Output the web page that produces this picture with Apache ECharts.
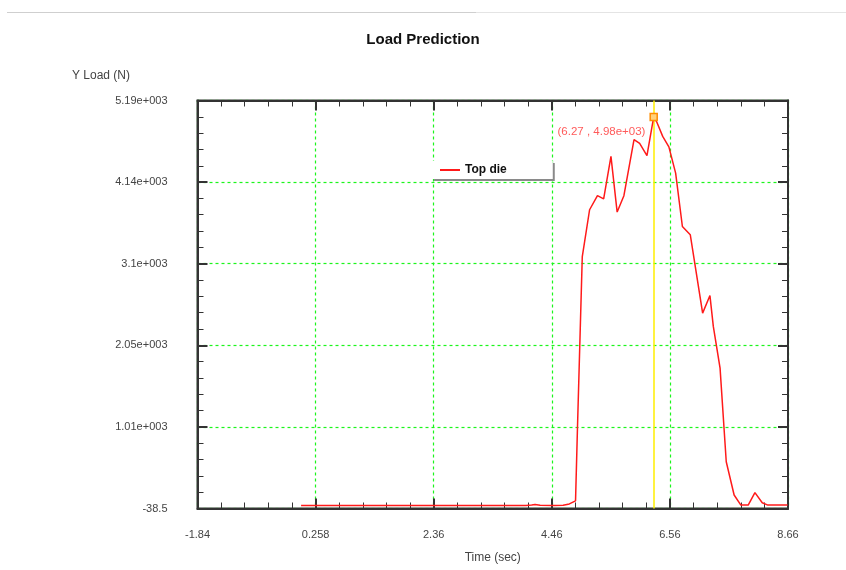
<!DOCTYPE html>
<html>
<head>
<meta charset="utf-8">
<script src="https://cdn.jsdelivr.net/npm/echarts@6/dist/echarts.min.js"></script>
<style>html,body{margin:0;padding:0;background:#fff;}#c{width:846px;height:570px;}</style>
</head>
<body>
<div id="c"></div>
<script>
// Data (time in sec, Y load in N)
var times = [0.0, 1.0, 2.0, 3.0, 4.0, 4.1, 4.16, 4.25, 4.5, 4.66, 4.77, 4.88, 4.915, 5.0, 5.13, 5.27, 5.38, 5.51, 5.62, 5.74, 5.92, 6.02, 6.15, 6.27, 6.33, 6.43, 6.54, 6.66, 6.78, 6.92, 7.14, 7.27, 7.33, 7.45, 7.56, 7.70, 7.82, 7.95, 8.07, 8.20, 8.30, 8.65];
var loads = [0, 0, 0, 0, 0, 5, 14, 3, 0, 2, 20, 60, 1010, 3190, 3790, 3970, 3930, 4475, 3760, 3970, 4690, 4640, 4485, 4980, 4905, 4730, 4595, 4260, 3575, 3470, 2465, 2690, 2295, 1760, 560, 135, 5, 5, 165, 35, 5, 5];
var seriesName = 'Top die';
var peakPoint = [6.27, 4980];
var xTicks = {min: -1.842, max: 8.658, interval: 2.1};
var yTicks = {min: -38.5, max: 5190, interval: 1045.7};
var chartTitle = 'Load Prediction';
var xName = 'Time (sec)';
var yName = 'Y Load (N)';

function fmtX(v) { return String(parseFloat(Number(v).toPrecision(3))); }
function fmtY(v) {
  if (Math.abs(v) < 1000) return String(parseFloat(Number(v).toPrecision(3)));
  var s = Number(v).toExponential(2).split('e');
  var m = String(parseFloat(s[0]));
  var e = parseInt(s[1], 10);
  var sign = e < 0 ? '-' : '+';
  var ea = String(Math.abs(e));
  while (ea.length < 3) ea = '0' + ea;
  return m + 'e' + sign + ea;
}

var data = times.map(function (t, i) { return [t, loads[i]]; });
var font = 'Liberation Sans, Arial, sans-serif';
var frameColor = '#333';
var gridGreen = '#1cf51c';

function axisCommon(extra) {
  var o = {
    type: 'value',
    splitNumber: 5,
    axisLine: {show: true, onZero: false, lineStyle: {color: frameColor, width: 2}},
    axisTick: {show: true, inside: true, length: 10, lineStyle: {color: frameColor, width: 2}},
    minorTick: {show: true, splitNumber: 5, length: 6, lineStyle: {color: frameColor, width: 1}},
    splitLine: {show: false},
    minorSplitLine: {show: false}
  };
  for (var k in extra) o[k] = extra[k];
  return o;
}

var chart = echarts.init(document.getElementById('c'), null, {renderer: 'canvas'});
chart.setOption({
  backgroundColor: '#fff',
  animation: false,
  title: [
    {text: chartTitle, left: 'center', top: 27,
     textStyle: {fontFamily: font, fontWeight: 'bold', fontSize: 15, color: '#111'}},
    {text: yName, left: 67, top: 65,
     textStyle: {fontFamily: font, fontWeight: 'normal', fontSize: 12, color: '#444'}}
  ],
  graphic: [
    {type: 'line', shape: {x1: 7, y1: 12.5, x2: 476, y2: 12.5}, style: {stroke: '#cfcfcf', lineWidth: 1}, silent: true},
    {type: 'line', shape: {x1: 476, y1: 12.5, x2: 846, y2: 12.5}, style: {stroke: '#e4e4e4', lineWidth: 1}, silent: true}
  ],
  legend: {
    data: [{name: seriesName, icon: 'path://M0,0L20,0L20,2L0,2Z'}],
    left: 432, top: 161,
    padding: [3, 46, 3, 8],
    itemWidth: 20, itemHeight: 12, itemGap: 6,
    backgroundColor: '#fff',
    shadowColor: '#8a8a8a', shadowBlur: 0, shadowOffsetX: 2, shadowOffsetY: 2,
    textStyle: {fontFamily: font, fontWeight: 'bold', fontSize: 12, color: '#111'}
  },
  grid: {left: 197.5, right: 58, top: 100.5, bottom: 61.5, show: true, borderColor: frameColor, borderWidth: 2, containLabel: false},
  xAxis: [
    axisCommon({
      position: 'bottom', min: xTicks.min, max: xTicks.max, interval: xTicks.interval,
      name: xName, nameLocation: 'middle', nameGap: 43,
      nameTextStyle: {fontFamily: font, fontSize: 12, color: '#444'},
      axisLabel: {show: true, margin: 21, fontFamily: font, fontSize: 11, color: '#444', formatter: fmtX,
                  showMinLabel: true, showMaxLabel: true},
      splitLine: {show: true, lineStyle: {color: gridGreen, type: [3, 3], width: 1.2}}
    }),
    axisCommon({
      position: 'top', min: xTicks.min, max: xTicks.max, interval: xTicks.interval,
      axisLabel: {show: false}
    })
  ],
  yAxis: [
    axisCommon({
      position: 'left', min: yTicks.min, max: yTicks.max, interval: yTicks.interval,
      axisLabel: {show: true, margin: 30, fontFamily: font, fontSize: 11, color: '#444', formatter: fmtY,
                  showMinLabel: true, showMaxLabel: true},
      splitLine: {show: true, lineStyle: {color: gridGreen, type: [3, 3], width: 1.2}}
    }),
    axisCommon({
      position: 'right', min: yTicks.min, max: yTicks.max, interval: yTicks.interval,
      axisLabel: {show: false}
    })
  ],
  series: [{
    name: seriesName,
    type: 'line',
    data: data,
    symbol: 'none',
    showSymbol: false,
    lineStyle: {color: '#ff1a1a', width: 1.5},
    itemStyle: {color: '#ff1a1a'},
    z: 3,
    markLine: {
      silent: true,
      symbol: 'none',
      label: {show: false},
      lineStyle: {color: '#ffee00', width: 1.5, type: 'solid', opacity: 1},
      emphasis: {disabled: true},
      data: [{xAxis: peakPoint[0]}],
      z: 2
    },
    markPoint: {
      symbol: 'rect',
      symbolSize: 7,
      itemStyle: {color: '#ffd27a', borderColor: '#ff8c00', borderWidth: 1.5},
      label: {
        show: true, position: 'left', distance: 4, offset: [0, 15],
        fontFamily: font, fontSize: 11.5, color: '#ff5a5a',
        formatter: function (p) { return '(' + fmtX(p.data.coord[0]) + ' , ' + Number(p.data.coord[1]).toExponential(2).replace('e+3', 'e+03') + ')'; }
      },
      data: [{coord: peakPoint}]
    }
  }]
});
</script>
</body>
</html>
